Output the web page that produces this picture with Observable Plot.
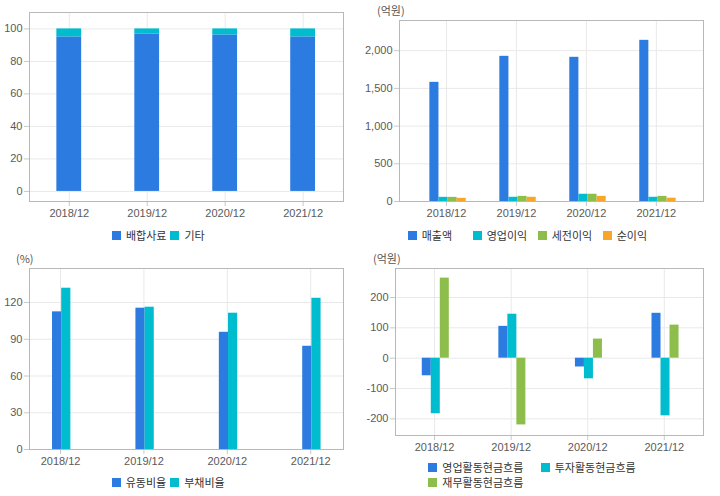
<!DOCTYPE html>
<html><head><meta charset="utf-8">
<script src="https://cdn.jsdelivr.net/npm/d3@7"></script>
<script src="https://cdn.jsdelivr.net/npm/@observablehq/plot@0.6"></script>
<style>
body{margin:0;background:#fff;font-family:"Liberation Sans","Noto Sans CJK KR",sans-serif;}
#root{position:relative;width:720px;height:496px;overflow:hidden;background:#fff}
.panel{position:absolute;width:360px;height:248px}
.panel svg{position:absolute;left:0;top:0;overflow:visible}
.unit{position:absolute;font-size:11px;color:#555;font-family:"Noto Sans CJK KR",sans-serif;line-height:12px}
.legend{position:absolute;display:flex;flex-wrap:wrap;font-size:11px;color:#333;font-family:"Noto Sans CJK KR",sans-serif;line-height:15px}
.item{display:flex;align-items:center;white-space:nowrap}
.sw{display:inline-block;width:9px;height:9px;margin-right:5px}
svg [aria-label="x-axis tick"] path, svg [aria-label="y-axis tick"] path{stroke:#c8c8c8}
</style>
</head><body>
<div id="root"></div>
<script>
// ---------- data ----------
const years = ["2018/12", "2019/12", "2020/12", "2021/12"];

const feedSeries = ["배합사료", "기타"];
const feedMain  = [95.1, 96.9, 96.3, 95.1];
const feedOther = [4.9, 3.1, 3.7, 4.9];
const feedTicks = [0, 20, 40, 60, 80, 100];

const incomeSeries = ["매출액", "영업이익", "세전이익", "순이익"];
const sales     = [1580, 1925, 1912, 2137];
const opIncome  = [55, 56, 96, 56];
const preTax    = [55, 68, 96, 68];
const netIncome = [42, 56, 68, 44];
const incomeTicks = [0, 500, 1000, 1500, 2000];

const ratioSeries = ["유동비율", "부채비율"];
const currentRatio = [112.4, 115.4, 95.7, 84.3];
const debtRatio    = [131.7, 116.2, 111.3, 123.5];
const ratioTicks = [0, 30, 60, 90, 120];

const cashSeries = ["영업활동현금흐름", "투자활동현금흐름", "재무활동현금흐름"];
const opCash  = [-58, 105, -29, 148];
const invCash = [-183, 145, -68, -190];
const finCash = [264, -220, 63, 109];
const cashTicks = [-200, -100, 0, 100, 200];

const BLUE = "#2b7be0", CYAN = "#00bccf", GREEN = "#8dbd4a", ORANGE = "#f7a62b";

// ---------- helpers ----------
const root = document.getElementById("root");
const idx = years.map((_, i) => i);

function groupedRows(seriesNames, valueArrays, w, off) {
  const n = seriesNames.length;
  const rows = [];
  valueArrays.forEach((vals, k) => {
    vals.forEach((v, i) => {
      const x1 = i + (k - n / 2) * w + off;
      rows.push({series: seriesNames[k], i, x1, x2: x1 + w, y1: 0, y2: v});
    });
  });
  return rows;
}

function makePanel(cfg) {
  const div = document.createElement("div");
  div.className = "panel";
  div.style.left = cfg.left + "px";
  div.style.top = cfg.top + "px";
  root.appendChild(div);

  const chart = Plot.plot({
    width: 360,
    height: cfg.height,
    marginTop: cfg.mt, marginBottom: cfg.mb, marginLeft: cfg.ml, marginRight: cfg.mr,
    style: {fontSize: "11px", color: "#5a5a5a", fontFamily: '"Liberation Sans","Noto Sans CJK KR",sans-serif', background: "transparent"},
    x: {type: "linear", domain: cfg.xDomain, ticks: idx, tickFormat: i => years[i], tickSize: 5, tickPadding: 3, label: null},
    y: {domain: cfg.yDomain, ticks: cfg.yTicks, tickFormat: cfg.yFormat, tickSize: 5, tickPadding: 2, label: null},
    color: {domain: cfg.series, range: cfg.colors},
    marks: [
      Plot.ruleY(cfg.yTicks, {stroke: "#e9e9e9", strokeWidth: 1}),
      Plot.ruleX(idx, {stroke: "#e9e9e9", strokeWidth: 1}),
      Plot.rectY(cfg.rows, {x1: "x1", x2: "x2", y1: "y1", y2: "y2", fill: "series", inset: 0}),
      Plot.frame({stroke: "#b8b8b8"})
    ]
  });
  div.appendChild(chart);

  if (cfg.unit) {
    const u = document.createElement("div");
    u.className = "unit";
    u.textContent = cfg.unit;
    u.style.left = cfg.unitX + "px";
    u.style.top = "4px";
    div.appendChild(u);
  }

  const lg = document.createElement("div");
  lg.className = "legend";
  lg.style.left = cfg.legend.x + "px";
  lg.style.top = cfg.legend.y + "px";
  if (cfg.legend.width) lg.style.width = cfg.legend.width + "px";
  cfg.series.forEach((s, k) => {
    const it = document.createElement("div");
    it.className = "item";
    if (cfg.legend.itemWidth) it.style.width = cfg.legend.itemWidth + "px";
    else it.style.marginRight = cfg.legend.gap + "px";
    const sw = document.createElement("span");
    sw.className = "sw";
    sw.style.background = cfg.colors[k];
    const tx = document.createElement("span");
    tx.textContent = s;
    it.appendChild(sw); it.appendChild(tx);
    lg.appendChild(it);
  });
  div.appendChild(lg);
}

// ---------- panel 1: stacked composition ----------
const feedW = 0.318;
const feedRows = [];
idx.forEach(i => {
  feedRows.push({series: feedSeries[0], i, x1: i - feedW / 2, x2: i + feedW / 2, y1: 0, y2: feedMain[i]});
  feedRows.push({series: feedSeries[1], i, x1: i - feedW / 2, x2: i + feedW / 2, y1: feedMain[i], y2: feedMain[i] + feedOther[i]});
});
makePanel({
  left: 0, top: 0, height: 225, mt: 12, mb: 24, ml: 29, mr: 17,
  xDomain: [-0.51, 3.518], yDomain: [-6.2, 110.1], yTicks: feedTicks, yFormat: d => String(d),
  series: feedSeries, colors: [BLUE, CYAN], rows: feedRows,
  legend: {x: 112, y: 228, gap: 4}
});

// ---------- panel 2: income ----------
makePanel({
  left: 360, top: 0, height: 225, mt: 20, mb: 24, ml: 39, mr: 17,
  xDomain: [-0.671, 3.674], yDomain: [0, 2400], yTicks: incomeTicks, yFormat: d3.format(","),
  series: incomeSeries, colors: [BLUE, CYAN, GREEN, ORANGE],
  rows: groupedRows(incomeSeries, [sales, opIncome, preTax, netIncome], 0.130, 0.023),
  unit: "(억원)", unitX: 17,
  legend: {x: 47.7, y: 228, itemWidth: 65}
});

// ---------- panel 3: ratios ----------
makePanel({
  left: 0, top: 248, height: 225, mt: 20, mb: 24, ml: 29, mr: 17,
  xDomain: [-0.372, 3.393], yDomain: [0, 147.8], yTicks: ratioTicks, yFormat: d => String(d),
  series: ratioSeries, colors: [BLUE, CYAN],
  rows: groupedRows(ratioSeries, [currentRatio, debtRatio], 0.110, 0.014),
  unit: "(%)", unitX: 16,
  legend: {x: 111.7, y: 227, gap: 4}
});

// ---------- panel 4: cash flow ----------
makePanel({
  left: 360, top: 248, height: 212, mt: 20, mb: 25, ml: 35, mr: 17,
  xDomain: [-0.51, 3.512], yDomain: [-254.9, 295.7], yTicks: cashTicks, yFormat: d => String(d),
  series: cashSeries, colors: [BLUE, CYAN, GREEN],
  rows: groupedRows(cashSeries, [opCash, invCash, finCash], 0.1176, 0.016),
  unit: "(억원)", unitX: 13,
  legend: {x: 68.3, y: 212, itemWidth: 112.4, width: 230}
});
</script>
</body></html>
